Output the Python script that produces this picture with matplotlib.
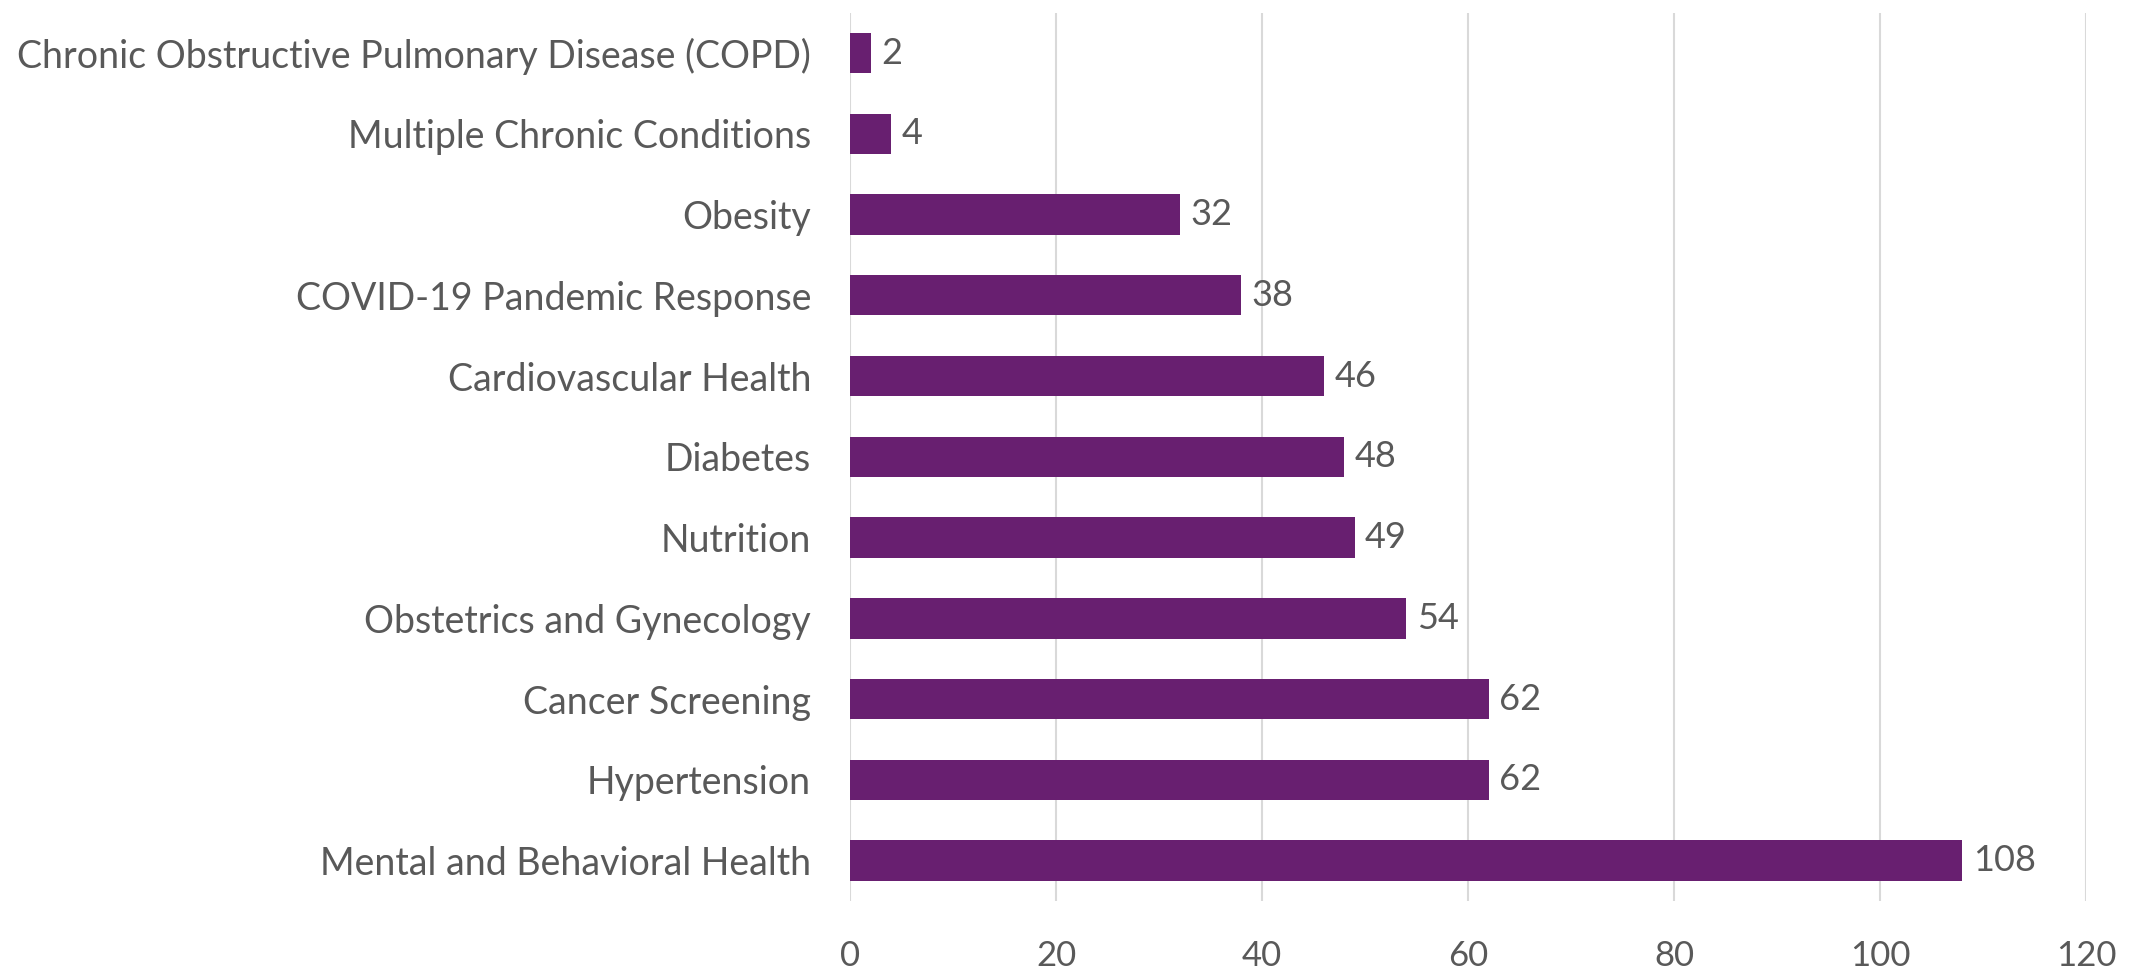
import matplotlib.pyplot as plt

categories = [
    "Mental and Behavioral Health",
    "Hypertension",
    "Cancer Screening",
    "Obstetrics and Gynecology",
    "Nutrition",
    "Diabetes",
    "Cardiovascular Health",
    "COVID-19 Pandemic Response",
    "Obesity",
    "Multiple Chronic Conditions",
    "Chronic Obstructive Pulmonary Disease (COPD)",
]
counts = [108, 62, 62, 54, 49, 48, 46, 38, 32, 4, 2]
xticks = [0, 20, 40, 60, 80, 100, 120]

BAR_COLOR = '#681f70'
TEXT_COLOR = '#595959'

plt.rcParams['font.family'] = ['Lato', 'DejaVu Sans']

fig = plt.figure(figsize=(21.36, 9.74), dpi=100)
ax = fig.add_axes([0.398, 0.075, 0.5786, 0.912])

positions = list(range(len(categories)))
ax.barh(positions, counts, height=0.5, color=BAR_COLOR, zorder=3)

# value labels just past the end of each bar
for pos, val in zip(positions, counts):
    ax.text(val + 1.0, pos, str(val), va='center', ha='left',
            fontsize=26, color=TEXT_COLOR)

ax.set_xlim(0, 120)
ax.set_ylim(-0.5, len(categories) - 0.5)
ax.set_xticks(xticks)
ax.set_yticks(positions)
ax.set_yticklabels(categories)
ax.tick_params(axis='both', length=0, labelcolor=TEXT_COLOR)
ax.tick_params(axis='x', pad=28, labelsize=25)
ax.tick_params(axis='y', pad=28, labelsize=27)

ax.grid(axis='x', color='#d9d9d9', linewidth=1.5, zorder=0)
for side in ax.spines.values():
    side.set_visible(False)

plt.savefig('out.png', dpi=100)
